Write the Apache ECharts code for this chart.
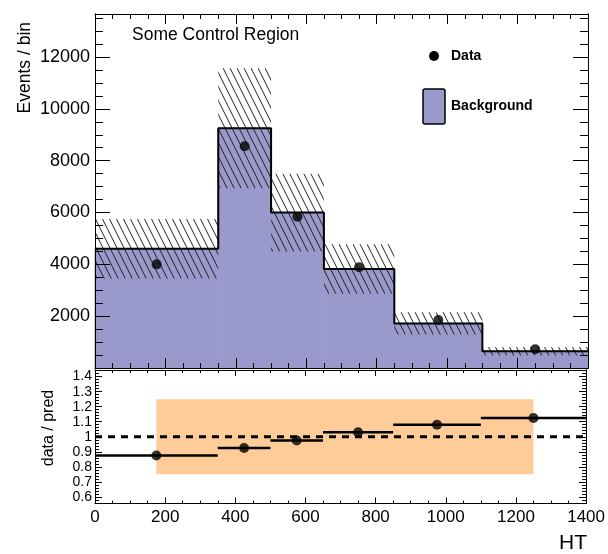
<!DOCTYPE html>
<html>
<head>
<meta charset="utf-8">
<script src="https://cdn.jsdelivr.net/npm/echarts@6/dist/echarts.min.js"></script>
<style>
html,body{margin:0;padding:0;background:#fff;}
#chart{width:608px;height:554px;}
</style>
</head>
<body>
<div id="chart"></div>
<script>
// ---- data ----
var binEdges   = [0, 350, 500, 650, 850, 1100, 1400];
var background = [4600, 9250, 6000, 3820, 1720, 645];
var bgRelUnc   = [0.25, 0.25, 0.25, 0.25, 0.25, 0.25];
var dataX      = [175, 425, 575, 750, 975, 1250];
var dataY      = [4000, 8560, 5840, 3890, 1850, 725];
var ratioY     = [0.875, 0.925, 0.975, 1.03, 1.08, 1.125];
var bandX      = [175, 1250];
var bandY      = [0.75, 1.25];
var topYTicks  = [2000, 4000, 6000, 8000, 10000, 12000];
var lowYTicks  = [0.6, 0.7, 0.8, 0.9, 1, 1.1, 1.2, 1.3, 1.4];

var TOP_MAX = 13660, LOW_MIN = 0.556, LOW_MAX = 1.444;
var FONT = 'Liberation Sans';

var topYMinor = []; for (var v = 500; v < TOP_MAX; v += 500) topYMinor.push(v);
var lowYMinor = []; for (var k = 28; k <= 72; k++) lowYMinor.push(Math.round(k * 2) / 100);

var pat = document.createElement('canvas');
pat.width = 7; pat.height = 14;
var c = pat.getContext('2d');
c.strokeStyle = '#222'; c.lineWidth = 1;
c.beginPath();
c.moveTo(-7, 0); c.lineTo(0, 14);
c.moveTo(0, 0); c.lineTo(7, 14);
c.moveTo(7, 0); c.lineTo(14, 14);
c.stroke();

var bgBins = [], hatchBins = [], ratioBins = [], stepPts = [], dataPts = [], ratioPts = [];
for (var i = 0; i < background.length; i++) {
  bgBins.push([binEdges[i], binEdges[i + 1], background[i]]);
  hatchBins.push([binEdges[i], binEdges[i + 1], background[i] * (1 - bgRelUnc[i]), background[i] * (1 + bgRelUnc[i])]);
  ratioBins.push([binEdges[i], binEdges[i + 1], ratioY[i]]);
  stepPts.push([binEdges[i], background[i]]);
  dataPts.push([dataX[i], dataY[i]]);
  ratioPts.push([dataX[i], ratioY[i]]);
}
stepPts.push([binEdges[binEdges.length - 1], background[background.length - 1]]);

function plain(v) { return String(v); }

function xAx(grid, pos, showLabel, major, minor) {
  return {
    type: 'value', gridIndex: grid, position: pos, min: 0, max: 1400, interval: 200, z: 10,
    axisLine: { show: true, onZero: false, lineStyle: { color: '#000', width: 1 } },
    splitLine: { show: false },
    axisTick: { show: true, inside: true, length: major, lineStyle: { color: '#000', width: 1 } },
    minorTick: { show: true, splitNumber: 4, length: minor, lineStyle: { color: '#000', width: 1 } },
    axisLabel: { show: showLabel, margin: 5, fontSize: 17, fontFamily: FONT, color: '#000', formatter: plain }
  };
}
function yAx(grid, pos, min, max, ticks, len, showLabel, lab) {
  var o = {
    type: 'value', gridIndex: grid, position: pos, min: min, max: max, z: 10,
    axisLine: { show: true, onZero: false, lineStyle: { color: '#000', width: 1 } },
    splitLine: { show: false },
    axisTick: { show: true, inside: true, length: len, customValues: ticks, lineStyle: { color: '#000', width: 1 } },
    axisLabel: { show: false }
  };
  if (showLabel) {
    o.axisLabel = Object.assign({ show: true, customValues: ticks, fontFamily: FONT, color: '#000', formatter: plain }, lab);
  }
  return o;
}

function rectItem(params, api) {
  var p0 = api.coord([api.value(0), api.value(3)]);
  var p1 = api.coord([api.value(1), api.value(2)]);
  return { x: p0[0], y: p0[1], width: p1[0] - p0[0], height: p1[1] - p0[1] };
}

var option = {
  animation: false,
  backgroundColor: '#fff',
  grid: [
    { left: 95, width: 493, top: 14, height: 354 },
    { left: 95, width: 493, top: 370, height: 133.5 }
  ],
  xAxis: [
    xAx(0, 'bottom', false, 10, 5),
    xAx(0, 'top', false, 10, 5),
    xAx(1, 'bottom', true, 6, 3),
    xAx(1, 'top', false, 6, 3)
  ],
  yAxis: [
    yAx(0, 'left', 0, TOP_MAX, topYTicks, 15, true, { fontSize: 18, margin: 5 }),
    yAx(0, 'left', 0, TOP_MAX, topYMinor, 8, false),
    yAx(0, 'right', 0, TOP_MAX, topYTicks, 15, false),
    yAx(0, 'right', 0, TOP_MAX, topYMinor, 8, false),
    yAx(1, 'left', LOW_MIN, LOW_MAX, lowYTicks, 7, true, { fontSize: 14, margin: 3 }),
    yAx(1, 'left', LOW_MIN, LOW_MAX, lowYMinor, 4, false),
    yAx(1, 'right', LOW_MIN, LOW_MAX, lowYTicks, 7, false),
    yAx(1, 'right', LOW_MIN, LOW_MAX, lowYMinor, 4, false)
  ],
  series: [
    {
      name: 'Background', type: 'custom', xAxisIndex: 0, yAxisIndex: 0, z: 2,
      itemStyle: { color: '#9999cc' },
      encode: { x: [0, 1], y: 2 },
      data: bgBins,
      renderItem: function (params, api) {
        var p0 = api.coord([api.value(0), api.value(2)]);
        var p1 = api.coord([api.value(1), 0]);
        return { type: 'rect', shape: { x: p0[0], y: p0[1], width: p1[0] - p0[0], height: p1[1] - p0[1] },
                 style: { fill: '#9999cc', stroke: '#9999cc', lineWidth: 1 } };
      }
    },
    {
      name: 'Uncertainty', type: 'custom', xAxisIndex: 0, yAxisIndex: 0, z: 3,
      encode: { x: [0, 1], y: [2, 3] },
      data: hatchBins,
      renderItem: function (params, api) {
        return { type: 'rect', shape: rectItem(params, api),
                 style: { fill: { image: pat, repeat: 'repeat' } } };
      }
    },
    {
      name: 'outline', type: 'line', xAxisIndex: 0, yAxisIndex: 0, z: 4,
      step: 'end', symbol: 'none', data: stepPts,
      lineStyle: { color: '#000', width: 2 }
    },
    {
      name: 'Data', type: 'scatter', xAxisIndex: 0, yAxisIndex: 0, z: 5,
      symbol: 'circle', symbolSize: 10, data: dataPts,
      itemStyle: { color: '#000' }
    },
    {
      name: 'band', type: 'custom', xAxisIndex: 2, yAxisIndex: 4, z: 2,
      encode: { x: [0, 1], y: [2, 3] },
      data: [[bandX[0], bandX[1], bandY[0], bandY[1]]],
      renderItem: function (params, api) {
        return { type: 'rect', shape: rectItem(params, api), style: { fill: '#fecc99' } };
      }
    },
    {
      name: 'unity', type: 'line', xAxisIndex: 2, yAxisIndex: 4, z: 3,
      symbol: 'none', data: [[0, 1], [1400, 1]],
      lineStyle: { color: '#000', width: 3, type: [7, 6] }
    },
    {
      name: 'ratioBars', type: 'custom', xAxisIndex: 2, yAxisIndex: 4, z: 4,
      encode: { x: [0, 1], y: 2 },
      data: ratioBins,
      renderItem: function (params, api) {
        var p0 = api.coord([api.value(0), api.value(2)]);
        var p1 = api.coord([api.value(1), api.value(2)]);
        return { type: 'line', shape: { x1: p0[0], y1: p0[1], x2: p1[0], y2: p1[1] },
                 style: { stroke: '#000', lineWidth: 2.5 } };
      }
    },
    {
      name: 'ratio', type: 'scatter', xAxisIndex: 2, yAxisIndex: 4, z: 5,
      symbol: 'circle', symbolSize: 10, data: ratioPts,
      itemStyle: { color: '#000' }
    }
  ],
  graphic: [
    { type: 'text', x: 132, y: 35.5, z: 20,
      style: { text: 'Some Control Region', fontSize: 17.5, fontFamily: FONT, fill: '#000',
               textAlign: 'left', textVerticalAlign: 'middle', align: 'left', verticalAlign: 'middle' } },
    { type: 'text', x: 25.5, y: 22, rotation: Math.PI / 2, z: 20,
      style: { text: 'Events / bin', fontSize: 17.5, fontFamily: FONT, fill: '#000',
               textAlign: 'right', textVerticalAlign: 'middle', align: 'right', verticalAlign: 'middle' } },
    { type: 'text', x: 49, y: 428, rotation: Math.PI / 2, z: 20,
      style: { text: 'data / pred', fontSize: 16, fontFamily: FONT, fill: '#000',
               textAlign: 'center', textVerticalAlign: 'middle', align: 'center', verticalAlign: 'middle' } },
    { type: 'text', x: 587, y: 543.5, z: 20,
      style: { text: 'HT', fontSize: 21, fontFamily: FONT, fill: '#000',
               textAlign: 'right', textVerticalAlign: 'middle', align: 'right', verticalAlign: 'middle' } },
    { type: 'circle', shape: { cx: 434, cy: 56, r: 5 }, style: { fill: '#000' }, z: 20 },
    { type: 'text', x: 451, y: 56.5, z: 20,
      style: { text: 'Data', fontSize: 14, fontWeight: 'bold', fontFamily: FONT, fill: '#000',
               textAlign: 'left', textVerticalAlign: 'middle', align: 'left', verticalAlign: 'middle' } },
    { type: 'rect', shape: { x: 423, y: 89, width: 22, height: 35, r: 2 },
      style: { fill: '#9999cc', stroke: '#000', lineWidth: 1.5 }, z: 20 },
    { type: 'text', x: 451, y: 106, z: 20,
      style: { text: 'Background', fontSize: 14, fontWeight: 'bold', fontFamily: FONT, fill: '#000',
               textAlign: 'left', textVerticalAlign: 'middle', align: 'left', verticalAlign: 'middle' } }
  ]
};

var chart = echarts.init(document.getElementById('chart'), null, { renderer: 'canvas' });
chart.setOption(option);
</script>
</body>
</html>
